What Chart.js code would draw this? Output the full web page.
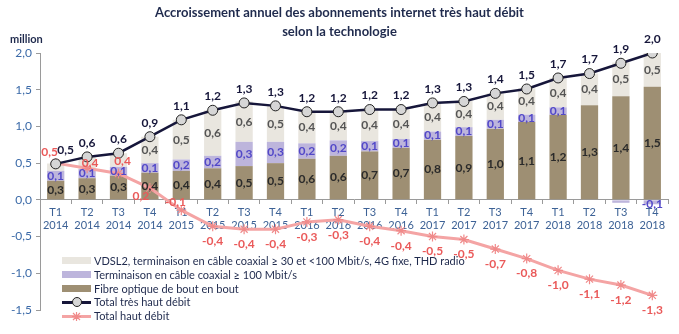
<!DOCTYPE html>
<html lang="fr">
<head>
<meta charset="utf-8">
<script src="https://cdn.jsdelivr.net/npm/chart.js@4/dist/chart.umd.min.js"></script>
<style>
  html, body { margin: 0; padding: 0; background: #fff; }
  #wrap { position: relative; width: 679px; height: 334px; font-family: Lato, "Liberation Sans", sans-serif; }
  #title { position: absolute; left: 0; top: 3px; width: 679px; text-align: center; font-weight: bold; font-size: 13px; line-height: 19px; color: #1f2a4d; }
  #unit { position: absolute; left: 10px; top: 32px; font-weight: bold; font-size: 11px; color: #1f2a4d; }
  #legend { position: absolute; left: 62px; top: 254px; font-size: 11px; color: #1f2a4d; }
  .row { height: 13.8px; line-height: 13.8px; white-space: nowrap; display: flex; align-items: center; }
  .sw { width: 29px; height: 7px; margin-right: 3px; flex: none; }
  .ln { position: relative; width: 29px; height: 12px; margin-right: 3px; flex: none; }
  .ln i { position: absolute; left: 0; right: 0; top: 5px; height: 3px; }
  .ln b { position: absolute; left: 10px; top: 1px; width: 8px; height: 8px; border-radius: 50%; background: #d6d6d6; border: 1px solid #222; }
  .ln svg { position: absolute; left: 10px; top: 2px; }
</style>
</head>
<body>
<div id="wrap">
  <canvas id="chart" width="679" height="334"></canvas>
  <div id="title">Accroissement annuel des abonnements internet très haut débit<br>selon la technologie</div>
  <div id="unit">million</div>
  <div id="legend">
    <div class="row"><span class="sw" style="background:#e9e6df"></span>VDSL2, terminaison en câble coaxial ≥ 30 et &lt;100 Mbit/s, 4G fixe, THD radio</div>
    <div class="row"><span class="sw" style="background:#bdb5dc"></span>Terminaison en câble coaxial ≥ 100 Mbit/s</div>
    <div class="row"><span class="sw" style="background:#9e8f73"></span>Fibre optique de bout en bout</div>
    <div class="row"><span class="ln"><i style="background:#16163a"></i><b></b></span>Total très haut débit</div>
    <div class="row"><span class="ln"><i style="background:#f4a4a4"></i><svg width="9" height="9" viewBox="0 0 9 9"><path d="M4.5 0V9M0 4.5H9M1 1L8 8M8 1L1 8" stroke="#f08a8a" stroke-width="1.2"/></svg></span>Total haut débit</div>
  </div>
</div>
<script>
// ====== DATA ======
const categories = [
  ['T1', '2014'], ['T2', '2014'], ['T3', '2014'], ['T4', '2014'],
  ['T1', '2015'], ['T2', '2015'], ['T3', '2015'], ['T4', '2015'],
  ['T1', '2016'], ['T2', '2016'], ['T3', '2016'], ['T4', '2016'],
  ['T1', '2017'], ['T2', '2017'], ['T3', '2017'], ['T4', '2017'],
  ['T1', '2018'], ['T2', '2018'], ['T3', '2018'], ['T4', '2018']
];
const fibre = [0.26, 0.295, 0.33, 0.37, 0.395, 0.43, 0.46, 0.5, 0.56, 0.6, 0.66, 0.71, 0.82, 0.87, 0.97, 1.06, 1.16, 1.29, 1.41, 1.54];
const coax100 = [0.135, 0.125, 0.12, 0.13, 0.155, 0.17, 0.33, 0.29, 0.21, 0.21, 0.14, 0.12, 0.11, 0.12, 0.12, 0.1, 0.1, 0, -0.04, -0.06];
const vdsl = [0.1, 0.165, 0.185, 0.36, 0.54, 0.62, 0.55, 0.49, 0.43, 0.39, 0.43, 0.4, 0.39, 0.36, 0.36, 0.36, 0.4, 0.43, 0.46, 0.46];
const totalTHD = [0.49, 0.585, 0.635, 0.86, 1.09, 1.22, 1.32, 1.28, 1.2, 1.2, 1.23, 1.23, 1.32, 1.34, 1.45, 1.51, 1.66, 1.72, 1.86, 2.0];
const totalHD = [0.5, 0.43, 0.36, 0.16, -0.14, -0.36, -0.4, -0.4, -0.3, -0.27, -0.36, -0.42, -0.5, -0.54, -0.67, -0.8, -0.96, -1.08, -1.16, -1.3];
const yTicks = [-1.5, -1.0, -0.5, 0.0, 0.5, 1.0, 1.5, 2.0];

// labels the reference leaves out (too thin segments)
const hiddenVdsl = [0, 1, 2];
const hiddenCoax = [17, 18];

const fmt = v => v.toFixed(1).replace('.', ',');

// ====== LABELS PLUGIN ======
const valueLabels = {
  id: 'valueLabels',
  afterDatasetsDraw(chart) {
    const ctx = chart.ctx;
    ctx.save();
    ctx.textAlign = 'center';
    ctx.textBaseline = 'middle';
    chart.data.datasets.forEach((ds, di) => {
      const meta = chart.getDatasetMeta(di);
      if (meta.hidden) return;
      meta.data.forEach((el, i) => {
        const v = ds.data[i];
        if (ds.hideLabels && ds.hideLabels.includes(i)) return;
        let x = el.x, y;
        if (ds.type === 'bar') {
          y = (el.y + el.base) / 2;
          if (v < 0) y = el.base + 4;
        } else if (ds.kind === 'thd') {
          y = el.y - 14;
          if (i === 0) x += 10;
        } else {
          // haut débit: labels under the line, except the first points
          y = el.y + 15;
          if (i === 0) { x -= 6; y = el.y - 11; }
          if (i === 1) { x += 3; y = el.y - 5; }
          if (i === 2) { x += 4; y = el.y - 12; }
          if (i === 3) { x -= 9; y = el.y + 8; }
          if (i === 4) { x -= 6; y = el.y - 8; }
        }
        ctx.font = 'bold ' + ds.labelSize + 'px Lato, "Liberation Sans", sans-serif';
        ctx.fillStyle = ds.labelColor;
        ctx.fillText(fmt(v), x, y);
      });
    });
    ctx.restore();
  }
};

// ====== CHART ======
const ctx = document.getElementById('chart');
new Chart(ctx, {
  data: {
    labels: categories,
    datasets: [
      {
        type: 'bar', label: 'Fibre optique de bout en bout', data: fibre,
        backgroundColor: '#9e8f73', stack: 'thd', order: 3,
        labelColor: '#2a2a2a', labelSize: 12
      },
      {
        type: 'bar', label: 'Terminaison en câble coaxial ≥ 100 Mbit/s', data: coax100,
        backgroundColor: '#bdb5dc', stack: 'thd', order: 3,
        labelColor: '#5248c8', labelSize: 12, hideLabels: hiddenCoax
      },
      {
        type: 'bar', label: 'VDSL2, terminaison en câble coaxial ≥ 30 et <100 Mbit/s, 4G fixe, THD radio', data: vdsl,
        backgroundColor: '#e9e6df', stack: 'thd', order: 3,
        labelColor: '#555', labelSize: 12, hideLabels: hiddenVdsl
      },
      {
        type: 'line', label: 'Total haut débit', data: totalHD, kind: 'hd',
        borderColor: '#f4a4a4', borderWidth: 3, pointStyle: 'star', pointRadius: 5,
        pointBorderColor: '#f08a8a', pointBorderWidth: 1.2, pointBackgroundColor: '#f08a8a',
        stack: 'hd', order: 2, tension: 0, labelColor: '#ea5a5a', labelSize: 12
      },
      {
        type: 'line', label: 'Total très haut débit', data: totalTHD, kind: 'thd',
        borderColor: '#16163a', borderWidth: 2.5, pointStyle: 'circle', pointRadius: 5,
        pointBorderColor: '#222', pointBorderWidth: 1, pointBackgroundColor: '#d6d6d6',
        stack: 'total', order: 1, tension: 0, labelColor: '#16163a', labelSize: 12
      }
    ]
  },
  options: {
    responsive: false,
    animation: false,
    layout: { padding: { top: 53, right: 11, bottom: 24, left: 0 } },
    plugins: { legend: { display: false }, tooltip: { enabled: false } },
    datasets: { bar: { barPercentage: 0.55, categoryPercentage: 1 } },
    scales: {
      x: {
        stacked: true,
        position: { y: 0 },
        grid: { drawOnChartArea: false, drawTicks: true, tickLength: 4, color: '#9a9a9a', offset: true },
        border: { color: '#9a9a9a', width: 1 },
        ticks: { color: '#3d6296', font: { size: 11, family: 'Lato, "Liberation Sans", sans-serif' }, padding: 2, maxRotation: 0, autoSkip: false }
      },
      y: {
        stacked: true,
        min: -1.5, max: 2.0,
        afterFit(scale) { scale.width = 40; },
        afterBuildTicks(scale) { scale.ticks = yTicks.map(v => ({ value: v })); },
        grid: { drawOnChartArea: false, drawTicks: true, tickLength: 4, color: '#9a9a9a' },
        border: { color: '#9a9a9a', width: 1 },
        ticks: { color: '#3b6aa8', font: { size: 12, family: 'Lato, "Liberation Sans", sans-serif' }, padding: 4, callback: v => fmt(v) }
      }
    }
  },
  plugins: [valueLabels]
});
</script>
</body>
</html>
